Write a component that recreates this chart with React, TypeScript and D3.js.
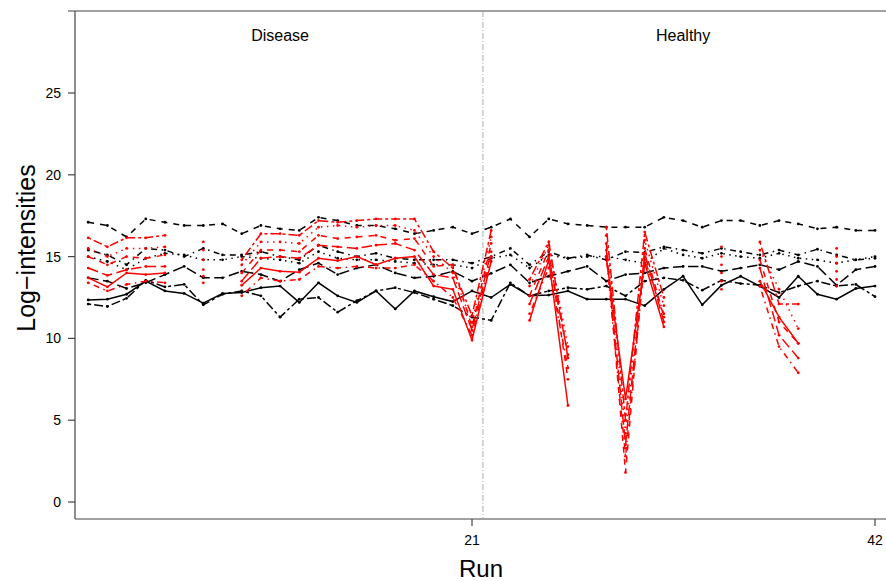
import React from 'react';
import * as d3 from 'd3';

const W = 886;
const H = 581;

const runs = d3.range(1, 43);
const groups = ['Disease', 'Healthy'];
const groupCenters = [11, 32];
const yTicks = [0, 5, 10, 15, 20, 25];
const xTicks = [21, 42];

// black features, one value per run
const blackA = [17.1, 16.9, 16.2, 17.3, 17.1, 16.9, 16.9, 17.0, 16.4, 16.9, 16.7, 16.6, 17.4, 17.2, 16.9, 16.9, 16.7, 16.4, 16.6, 16.8, 16.4, 16.8, 17.3, 16.2, 17.3, 17.0, 16.9, 16.8, 16.8, 16.8, 17.4, 17.2, 16.8, 17.2, 17.2, 16.9, 17.2, 17.0, 16.7, 16.8, 16.6, 16.6];
const blackB = [15.4, 15.1, 14.5, 15.5, 15.4, 15.0, 15.5, 15.1, 15.1, 15.3, 15.0, 14.8, 15.7, 15.3, 15.0, 15.2, 14.9, 14.8, 14.8, 14.8, 14.6, 15.0, 15.5, 14.5, 15.3, 14.9, 15.1, 14.8, 15.3, 15.25, 15.6, 15.4, 15.2, 15.5, 15.3, 15.1, 15.4, 15.1, 15.45, 15.1, 14.8, 14.9];
const blackC = [15.0, 14.7, 14.2, 14.9, 15.2, 15.1, 14.8, 14.8, 15.0, 14.9, 14.8, 14.6, 15.3, 14.9, 14.8, 14.8, 14.7, 14.6, 14.5, 14.5, 14.3, 14.9, 15.1, 14.3, 15.1, 14.9, 15.0, 15.0, 14.8, 14.6, 15.5, 15.1, 14.9, 15.2, 15.0, 14.9, 15.2, 14.9, 14.8, 14.6, 14.8, 15.0];
const blackD = [13.7, 13.5, 13.05, 13.4, 13.9, 14.4, 13.7, 13.7, 14.1, 13.9, 13.5, 14.2, 14.6, 13.9, 14.3, 14.5, 14.0, 13.7, 13.8, 14.1, 13.5, 13.98, 14.5, 13.4, 13.8, 14.1, 14.4, 13.5, 13.9, 14.0, 14.3, 14.4, 14.4, 14.1, 14.3, 14.5, 14.2, 14.7, 14.4, 13.25, 14.2, 14.4];
const blackE = [12.35, 12.4, 12.7, 13.5, 12.9, 12.75, 12.15, 12.75, 12.8, 13.1, 13.2, 12.2, 13.4, 12.6, 12.2, 12.9, 11.8, 12.9, 12.55, 12.25, 12.9, 12.5, 13.3, 12.6, 12.65, 12.9, 12.4, 12.4, 12.4, 12.0, 13.0, 13.8, 12.05, 13.25, 13.8, 13.2, 12.5, 13.8, 12.7, 12.4, 13.05, 13.2];
const blackF = [12.1, 11.95, 12.45, 13.55, 13.15, 13.3, 12.05, 12.7, 12.9, 12.6, 11.3, 12.4, 12.5, 11.6, 12.3, 12.9, 13.1, 12.8, 12.4, 12.0, 11.3, 11.1, 13.4, 12.6, 12.9, 13.1, 13.0, 13.2, 12.6, 13.5, 13.7, 13.55, 12.95, 13.55, 13.35, 13.25, 12.8, 13.2, 13.5, 13.2, 13.3, 12.55];

// red features, null = missing run
const n = null;
const redA = [16.15, 15.6, 16.15, 16.15, 16.3, n, 15.9, n, 14.8, 16.4, 16.4, 16.3, 17.2, 17.1, 17.2, 17.3, 17.3, 17.3, 15.3, 14.3, 11.4, 16.6, n, 13.6, 15.9, 8.8, n, 16.8, 5.0, 16.5, 12.5, n, n, 15.6, n, 15.9, 12.1, 12.1, n, 15.5, n, n];
const redB = [15.5, 15.0, 15.5, 15.5, 15.6, n, 15.4, n, 14.5, 15.9, 15.9, 15.8, 16.8, 16.9, 16.8, 16.9, 16.9, 16.6, 15.0, 14.0, 11.0, 16.2, n, 13.2, 15.7, 9.5, n, 16.3, 4.2, 16.0, 12.0, n, n, 15.0, n, 15.4, 13.0, 10.6, n, 15.0, n, n];
const redC = [15.0, 14.5, 15.0, 14.9, 15.1, n, 14.8, n, 14.0, 15.4, 15.4, 15.3, 16.3, 16.1, 16.2, 16.3, 16.0, 16.1, 14.4, 14.5, 10.7, 15.8, n, 12.6, 15.4, 7.5, n, 15.8, 1.8, 15.5, 11.3, n, n, 14.5, n, 14.8, 11.0, 9.7, n, 14.6, n, n];
const redD = [14.3, 13.85, 14.2, 14.4, 14.4, n, 14.2, n, 13.5, 14.9, 15.0, 14.9, 15.7, 15.6, 15.5, 15.7, 15.8, 15.4, 13.9, 13.7, 10.5, 15.3, n, 12.1, 15.0, 9.0, n, 15.4, 3.5, 15.2, 11.0, n, n, 14.0, n, 14.3, 10.2, 8.8, n, 14.1, n, n];
const redE = [13.7, 13.15, 14.0, 13.9, 14.0, n, 13.8, n, 13.25, 14.3, 14.1, 14.05, 14.9, 14.75, 15.0, 14.5, 14.9, 15.0, 13.2, 13.0, 9.9, 14.7, n, 11.1, 14.8, 5.9, n, 14.9, 6.3, 14.6, 10.7, n, n, 13.5, n, 13.5, 11.3, 9.7, n, 13.6, n, n];
const redF = [13.4, 12.9, 13.3, 13.5, 13.4, n, 13.4, n, 12.6, 13.7, 13.5, 13.6, 14.4, 14.3, 14.4, 14.3, 14.3, 14.5, 13.5, 12.5, 10.2, 15.0, n, 11.5, 14.3, 8.2, n, 15.0, 2.8, 14.8, 11.5, n, n, 13.0, n, 13.2, 9.5, 7.9, n, 13.2, n, n];

const dashes = {
  solid: null,
  dashed: '6,6',
  dotted: '1.5,4.5',
  dotdash: '1.5,4.5,6,4.5',
  longdash: '10.5,4.5',
  twodash: '3,3,9,3',
};

const series = [
  { values: blackA, color: 'black', lty: 'dashed' },
  { values: blackB, color: 'black', lty: 'dotdash' },
  { values: blackC, color: 'black', lty: 'dotted' },
  { values: blackD, color: 'black', lty: 'longdash' },
  { values: blackE, color: 'black', lty: 'solid' },
  { values: blackF, color: 'black', lty: 'twodash' },
  { values: redA, color: 'red', lty: 'twodash' },
  { values: redB, color: 'red', lty: 'dotted' },
  { values: redC, color: 'red', lty: 'dashed' },
  { values: redD, color: 'red', lty: 'longdash' },
  { values: redE, color: 'red', lty: 'solid' },
  { values: redF, color: 'red', lty: 'dotdash' },
];

const left = 75;
const top = 11;
const bottom = 519;

const x = d3.scaleLinear().domain([21 - 397 / 19.19, 42]).range([left, 875]);
const y = d3.scaleLinear().domain([0, 25]).range([502, 93]);

const line = d3
  .line<number | null>()
  .defined((d) => d != null)
  .x((d, i) => x(runs[i]))
  .y((d) => y(d as number));

const font = '"Liberation Sans", Arial, Helvetica, sans-serif';
const axisColor = '#444';

export default function App() {
  const sepX = x(21.57);
  return (
    <svg width={W} height={H} style={{ position: 'absolute', left: 0, top: 0, background: 'white' }} fontFamily={font}>
      {/* frame */}
      <line x1={68} x2={W} y1={top} y2={top} stroke={axisColor} strokeWidth={1.2} />
      <line x1={left} x2={left} y1={top} y2={bottom} stroke={axisColor} strokeWidth={1.2} />
      <line x1={left} x2={W} y1={bottom} y2={bottom} stroke={axisColor} strokeWidth={1.2} />

      {/* group separator */}
      <line x1={sepX} x2={sepX} y1={top} y2={bottom} stroke="#999" strokeWidth={0.8} strokeDasharray="6,2,1,2" />
      {groups.map((g, i) => (
        <text key={g} x={x(groupCenters[i])} y={41} textAnchor="middle" fontSize={16}>
          {g}
        </text>
      ))}

      {/* y axis */}
      {yTicks.map((t) => (
        <g key={t}>
          <line x1={68} x2={left} y1={y(t)} y2={y(t)} stroke={axisColor} strokeWidth={1.2} />
          <text x={61} y={y(t)} dy="0.35em" textAnchor="end" fontSize={14}>
            {t}
          </text>
        </g>
      ))}
      <text transform={`translate(35,248) rotate(-90)`} textAnchor="middle" fontSize={25}>
        Log−intensities
      </text>

      {/* x axis */}
      {xTicks.map((t) => (
        <g key={t}>
          <line x1={x(t)} x2={x(t)} y1={bottom} y2={bottom + 7} stroke={axisColor} strokeWidth={1.2} />
          <text x={x(t)} y={545} textAnchor="middle" fontSize={14}>
            {t}
          </text>
        </g>
      ))}
      <text x={481} y={577} textAnchor="middle" fontSize={24}>
        Run
      </text>

      {/* features */}
      <g>
        {series.map((s, i) => (
          <g key={i}>
            <path
              d={line(s.values) || ''}
              fill="none"
              stroke={s.color}
              strokeWidth={1.5}
              strokeDasharray={dashes[s.lty] || undefined}
            />
            {s.values.map((v, j) =>
              v == null ? null : <circle key={j} cx={x(runs[j])} cy={y(v)} r={1.4} fill={s.color} />
            )}
          </g>
        ))}
      </g>
    </svg>
  );
}
